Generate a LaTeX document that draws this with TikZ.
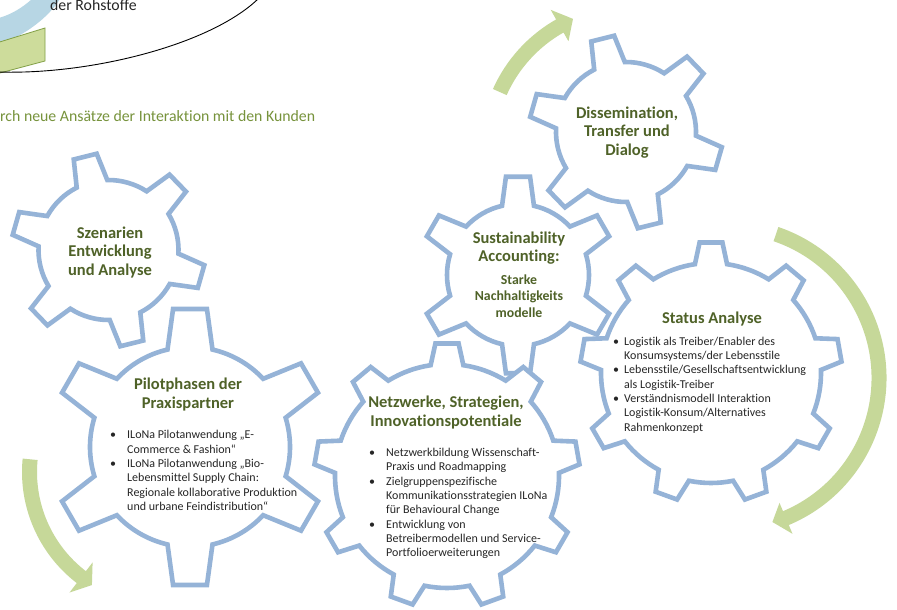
\documentclass[tikz,border=0pt]{standalone}
\usepackage{fontspec}
\setmainfont{Carlito}[Ligatures={NoCommon}]
\definecolor{gearblue}{RGB}{149,179,215}
\definecolor{arrowgreen}{RGB}{198,216,153}
\definecolor{titlegreen}{RGB}{79,98,40}
\definecolor{textgreen}{RGB}{119,147,60}
\definecolor{bandblue}{RGB}{183,214,228}
\definecolor{paragreen}{RGB}{205,220,155}
\definecolor{paraedge}{RGB}{130,160,70}
\definecolor{darktext}{RGB}{38,38,38}
\tikzset{
  gearline/.style={draw=gearblue, line width=4.6pt, fill=white, line join=miter},
  gtitle/.style={text=titlegreen, font=\fontsize{16.5}{18.5}\selectfont\bfseries, align=center, inner sep=0pt},
  gsub/.style={text=titlegreen, font=\fontsize{13.8}{16.5}\selectfont\bfseries, align=center, inner sep=0pt},
  blist/.style={text=darktext, font=\fontsize{12}{14.3}\selectfont, align=left, inner sep=0pt, anchor=west},
  greenarrow/.style={fill=arrowgreen},
  plain/.style={inner sep=0pt, anchor=base west},
}
\newcommand\geardraw[8]{%
  \begin{scope}[shift={(#1,#2)}]
    \path[gearline] ({#8-#7}:#5)
      \foreach \k [evaluate=\k as \ga using {#8+(\k-1)*360/#3}, evaluate=\k as \gb using {#8+\k*360/#3}] in {1,...,#3}{
        -- ({\ga-#6}:#4) -- ({\ga+#6}:#4) -- ({\ga+#7}:#5)
        arc[start angle={\ga+#7}, end angle={\gb-#7}, radius=#5]
      } -- cycle;
  \end{scope}}
\newcommand\bl[1]{\makebox[#1][l]{•}}
\begin{document}
\begin{tikzpicture}[x=1pt, y=-1pt]
\useasboundingbox (0,0) rectangle (897,610);
\clip (0,0) rectangle (897,610);
\fill[white] (0,0) rectangle (897,610);

% top-left remnants
\fill[bandblue] (32,-1) .. controls (22,8) and (12,14) .. (-1,18) -- (-1,45) .. controls (25,35) and (48,18) .. (60,-1) -- cycle;
\filldraw[fill=paragreen, draw=paraedge, line width=0.8pt] (-2,42.5) -- (45,28) -- (45,61) -- (-2,73.5) -- cycle;
\draw[black, line width=0.9pt] (-2,72) .. controls (90,75) and (210,45) .. (258,-1);
\node[plain, text=darktext, font=\fontsize{15.8}{18}\selectfont] (rohstoffe) at (50,10.5) {der Rohstoffe};
\node[plain, text=textgreen, font=\fontsize{15.8}{18}\selectfont] (kunden) at (0,121.5) {rch neue Ansätze der Interaktion mit den Kunden};

% green arrows
\begin{scope}[shift={(630,150)}]
  \fill[greenarrow] (204:135) arc[start angle=204, end angle=240.5, radius=135] -- (240.5:125) -- (246.5:143) -- (240.5:161) -- (240.5:150) arc[start angle=240.5, end angle=204, radius=150] -- cycle;
\end{scope}
\begin{scope}[shift={(727,378)}]
  \fill[greenarrow] (-71.2:144.5) arc[start angle=-71.2, end angle=67.2, radius=144.5] -- (67.2:135.5) -- (72.5:151) -- (67.2:169) -- (67.2:159.5) arc[start angle=67.2, end angle=-71.2, radius=159.5] -- cycle;
\end{scope}
\begin{scope}[shift={(162,472)}]
  \fill[greenarrow] (185.5:125) arc[start angle=185.5, end angle=127.5, radius=125] -- (127.5:114) -- (121.8:133) -- (127.5:152) -- (127.5:140) arc[start angle=127.5, end angle=185.5, radius=140] -- cycle;
\end{scope}

% gears
\geardraw{108.5}{250}{6}{97}{70}{7}{13}{-104}
\geardraw{626}{132}{6}{97}{70}{7}{13}{-104}
\geardraw{518}{275}{6}{99}{71}{7}{13}{-90}
\geardraw{190}{447}{6}{139}{100}{7}{13}{-90}
\geardraw{447}{476}{9}{133}{112}{5}{8.4}{-90}
\geardraw{711}{373}{9}{131}{110}{5}{8.4}{-90}

% texts
\node[gtitle] (szen) at (110,252.5) {Szenarien\\Entwicklung\\und Analyse};
\node[gtitle] (diss) at (627,132.5) {Dissemination,\\Transfer und\\Dialog};
\node[gtitle] (sust) at (519,248) {Sustainability\\Accounting:};
\node[gsub] (sustsub) at (519,296) {Starke\\Nachhaltigkeits\\modelle};
\node[gtitle] (status) at (712,319.5) {Status Analyse};
\node[blist] (statuslist) at (613,385) {\bl{11pt}Logistik als Treiber/Enabler des\\
\hspace*{11pt}Konsumsystems/der Lebensstile\\
\bl{11pt}Lebensstile/Gesellschaftsentwicklung\\
\hspace*{11pt}als Logistik-Treiber\\
\bl{11pt}Verständnismodell Interaktion\\
\hspace*{11pt}Logistik-Konsum/Alternatives\\
\hspace*{11pt}Rahmenkonzept};
\node[gtitle] (pilot) at (188,394.5) {Pilotphasen der\\Praxispartner};
\node[blist] (pilotlist) at (110,470.5) {\bl{17pt}ILoNa Pilotanwendung „E-\\
\hspace*{17pt}Commerce \& Fashion“\\
\bl{17pt}ILoNa Pilotanwendung „Bio-\\
\hspace*{17pt}Lebensmittel Supply Chain:\\
\hspace*{17pt}Regionale kollaborative Produktion\\
\hspace*{17pt}und urbane Feindistribution“};
\node[gtitle] (netz) at (446,412.5) {Netzwerke, Strategien,\\Innovationspotentiale};
\node[blist] (netzlist) at (369,503.5) {\bl{17pt}Netzwerkbildung Wissenschaft-\\
\hspace*{17pt}Praxis und Roadmapping\\
\bl{17pt}Zielgruppenspezifische\\
\hspace*{17pt}Kommunikationsstrategien ILoNa\\
\hspace*{17pt}für Behavioural Change\\
\bl{17pt}Entwicklung von\\
\hspace*{17pt}Betreibermodellen und Service-\\
\hspace*{17pt}Portfolioerweiterungen};
\end{tikzpicture}
\end{document}
